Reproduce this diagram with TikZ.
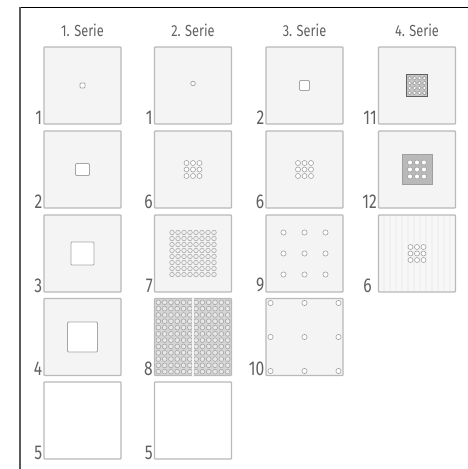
\documentclass[tikz,border=0pt]{standalone}
\usepackage{fontspec}
\setmainfont{Fira Sans}
\usetikzlibrary{positioning,calc}

\tikzset{
    panel/.style={draw=gray!55, line width=1.2pt, fill=gray!9, minimum size=77pt, inner sep=0pt, rounded corners=0.8pt},
    blank/.style={panel, fill=white},
    num/.style={text=gray!75!black, font=\fontsize{20}{20}\selectfont, xscale=0.78, inner sep=0pt, anchor=south east},
    head/.style={text=gray!75!black, font=\fontsize{16}{16}\selectfont, xscale=0.8, inner sep=0pt},
    hole/.style={draw=gray!70, line width=0.9pt, fill=white, rounded corners=1pt},
    dot/.style={draw=gray!75, line width=0.6pt, fill=white},
}

% square grid of little rings: centre, count, pitch, radius
\newcommand{\dotgrid}[4]{%
    \foreach \i in {1,...,#2} \foreach \j in {1,...,#2}
        \draw[dot] ($(#1)+({(\i-(#2+1)/2)*#3},{(\j-(#2+1)/2)*#3})$) circle (#4);}

\begin{document}
\begin{tikzpicture}[x=1pt, y=-1pt]
    \useasboundingbox (0,0) rectangle (468,469);
    \draw[line width=1pt] (20,7)--(468,7);
    \draw[gray!70!black, line width=1.5pt] (20,7)--(20,469);

    % headers
    \node[head] (h1) at (82.5,30) {1. Serie};
    \node[head] (h2) at (193,30) {2. Serie};
    \node[head] (h3) at (304.5,30) {3. Serie};
    \node[head] (h4) at (417,30) {4. Serie};

    % 1. Serie
    \node[panel] (s1r1) at (82.5,85.5) {};
    \node[panel] (s1r2) at (82.5,169.5) {};
    \node[panel] (s1r3) at (82.5,253.5) {};
    \node[panel] (s1r4) at (82.5,337) {};
    \node[blank] (s1r5) at (82.5,420.5) {};
    \draw[hole] ($(s1r1.center)+(-2.5,-2.5)$) rectangle ++(5,5);
    \draw[hole] ($(s1r2.center)+(-7,-6)$) rectangle ++(14,12);
    \draw[hole] ($(s1r3.center)+(-11.5,-11.5)$) rectangle ++(23,23);
    \draw[hole] ($(s1r4.center)+(-15,-15)$) rectangle ++(30,30);

    % 2. Serie
    \node[panel] (s2r1) at (193,85.5) {};
    \node[panel] (s2r2) at (193,169.5) {};
    \node[panel] (s2r3) at (193,253.5) {};
    \node[panel, fill=gray!32] (s2r4) at (193,337) {};
    \node[blank] (s2r5) at (193,420.5) {};
    \draw[dot, line width=0.7pt] ($(s2r1.center)+(0,-2)$) circle (2.3);
    \dotgrid{s2r2.center}{3}{6.5}{2.5}
    \begin{scope}[dot/.append style={fill=gray!12, draw=gray!65}]
        \dotgrid{s2r3.center}{8}{6}{2.3}
    \end{scope}
    \begin{scope}[dot/.append style={fill=gray!18, draw=gray!70}]
        \dotgrid{s2r4.center}{12}{6.3}{2.4}
    \end{scope}
    \draw[gray!8, line width=1.2pt] (s2r4.north) -- (s2r4.south);

    % 3. Serie
    \node[panel] (s3r1) at (304.5,85.5) {};
    \node[panel] (s3r2) at (304.5,169.5) {};
    \node[panel] (s3r3) at (304.5,253.5) {};
    \node[panel] (s3r4) at (304.5,337) {};
    \draw[hole] ($(s3r1.center)+(-5,-5)$) rectangle ++(10,10);
    \dotgrid{s3r2.center}{3}{6.5}{2.5}
    \dotgrid{s3r3.center}{3}{21}{2.6}
    \dotgrid{s3r4.center}{3}{34}{2.6}

    % 4. Serie
    \node[panel] (s4r1) at (417,85.5) {};
    \node[panel] (s4r2) at (417,169.5) {};
    \node[panel, fill=gray!6] (s4r3) at (417,253.5) {};
    \foreach \k in {-33,-27,...,33}
        \draw[gray!11, line width=2pt] ($(s4r3.north)+(\k,1.5)$) -- ($(s4r3.south)+(\k,-1.5)$);
    \draw[fill=gray!45, draw=gray!75!black, line width=0.8pt] ($(s4r1.center)+(-10.5,-11)$) rectangle ++(21,22);
    \dotgrid{s4r1.center}{4}{4.9}{1.9}
    \draw[fill=gray!55, draw=gray!75, line width=0.8pt] ($(s4r2.center)+(-15,-15)$) rectangle ++(30,30);
    \dotgrid{s4r2.center}{3}{7}{2.5}
    \dotgrid{s4r3.center}{3}{6.5}{2.5}

    % numbers
    \node[num, left=1pt of s1r1.south west, anchor=south east] (n11) {1};
    \node[num, left=1pt of s1r2.south west, anchor=south east] (n12) {2};
    \node[num, left=1pt of s1r3.south west, anchor=south east] (n13) {3};
    \node[num, left=1pt of s1r4.south west, anchor=south east] (n14) {4};
    \node[num, left=1pt of s1r5.south west, anchor=south east] (n15) {5};
    \node[num, left=1pt of s2r1.south west, anchor=south east] (n21) {1};
    \node[num, left=1pt of s2r2.south west, anchor=south east] (n22) {6};
    \node[num, left=1pt of s2r3.south west, anchor=south east] (n23) {7};
    \node[num, left=1pt of s2r4.south west, anchor=south east] (n24) {8};
    \node[num, left=1pt of s2r5.south west, anchor=south east] (n25) {5};
    \node[num, left=1pt of s3r1.south west, anchor=south east] (n31) {2};
    \node[num, left=1pt of s3r2.south west, anchor=south east] (n32) {6};
    \node[num, left=1pt of s3r3.south west, anchor=south east] (n33) {9};
    \node[num, left=1pt of s3r4.south west, anchor=south east] (n34) {10};
    \node[num, left=1pt of s4r1.south west, anchor=south east] (n41) {11};
    \node[num, left=1pt of s4r2.south west, anchor=south east] (n42) {12};
    \node[num, left=6pt of s4r3.south west, anchor=south east] (n43) {6};
\end{tikzpicture}
\end{document}
